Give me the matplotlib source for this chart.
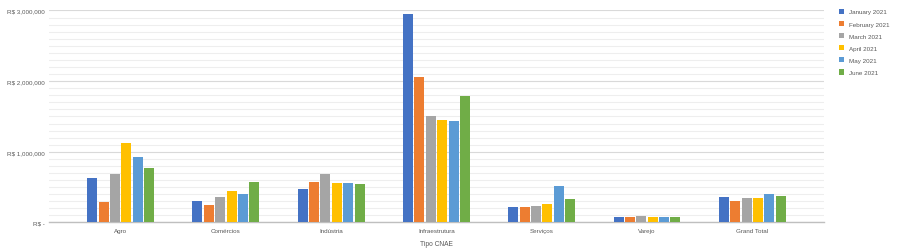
import numpy as np
import matplotlib.pyplot as plt
from matplotlib.ticker import MultipleLocator, FuncFormatter

# dados (R$)
categorias = ["Agro", "Comércios", "Indústria", "Infraestrutura", "Serviços", "Varejo", "Grand Total"]
meses = ["January 2021", "February 2021", "March 2021", "April 2021", "May 2021", "June 2021"]
jan = [630000, 300000, 470000, 2950000, 225000, 78000, 365000]
fev = [290000, 250000, 580000, 2060000, 225000, 78000, 305000]
mar = [690000, 365000, 690000, 1510000, 235000, 92000, 340000]
abr = [1120000, 445000, 555000, 1450000, 260000, 78000, 340000]
mai = [930000, 410000, 565000, 1440000, 510000, 80000, 400000]
jun = [770000, 570000, 550000, 1795000, 335000, 80000, 375000]
series = [jan, fev, mar, abr, mai, jun]
cores = ["#4472C4", "#ED7D31", "#A5A5A5", "#FFC000", "#5B9BD5", "#70AD47"]

plt.rcParams['font.family'] = ['Liberation Sans', 'DejaVu Sans']

fig = plt.figure(figsize=(9, 2.51), dpi=100)
ax = fig.add_axes([0.0544, 0.1096, 0.8611, 0.8446])

x = np.arange(len(categorias))
pitch = 0.108
largura = 0.095
for i, (vals, cor, nome) in enumerate(zip(series, cores, meses)):
    off = (i - 2.5) * pitch
    ax.bar(x + off, vals, width=largura, color=cor, label=nome, zorder=3)

ax.set_xlim(-0.68, len(categorias) - 1 + 0.68)
ax.set_ylim(0, 3000000)
ax.yaxis.set_major_locator(MultipleLocator(1000000))
ax.yaxis.set_minor_locator(MultipleLocator(100000))


def fmt(v, pos):
    if v == 0:
        return "R$ -"
    return "R$ {:,.0f}".format(v)


ax.yaxis.set_major_formatter(FuncFormatter(fmt))
ax.grid(axis='y', which='major', color='#d9d9d9', linewidth=0.8, zorder=0)
ax.grid(axis='y', which='minor', color='#eeeeee', linewidth=0.8, zorder=0)

for s in ['top', 'right', 'left']:
    ax.spines[s].set_visible(False)
ax.spines['bottom'].set_color('#bfbfbf')
ax.spines['bottom'].set_linewidth(1.0)

ax.set_xticks(x)
ax.set_xticklabels(categorias)
ax.tick_params(axis='both', which='both', length=0, labelsize=4.5, colors='#595959')
ax.tick_params(axis='x', pad=4)
ax.tick_params(axis='y', pad=3)
ax.set_xlabel("Tipo CNAE", fontsize=4.8, color='#595959', labelpad=5)

ax.legend(loc='upper left', bbox_to_anchor=(1.012, 1.035), frameon=False,
          fontsize=4.5, labelcolor='#595959', handlelength=0.9, handleheight=0.9,
          handletextpad=0.8, labelspacing=1.02)

fig.savefig("out.png", dpi=100)
